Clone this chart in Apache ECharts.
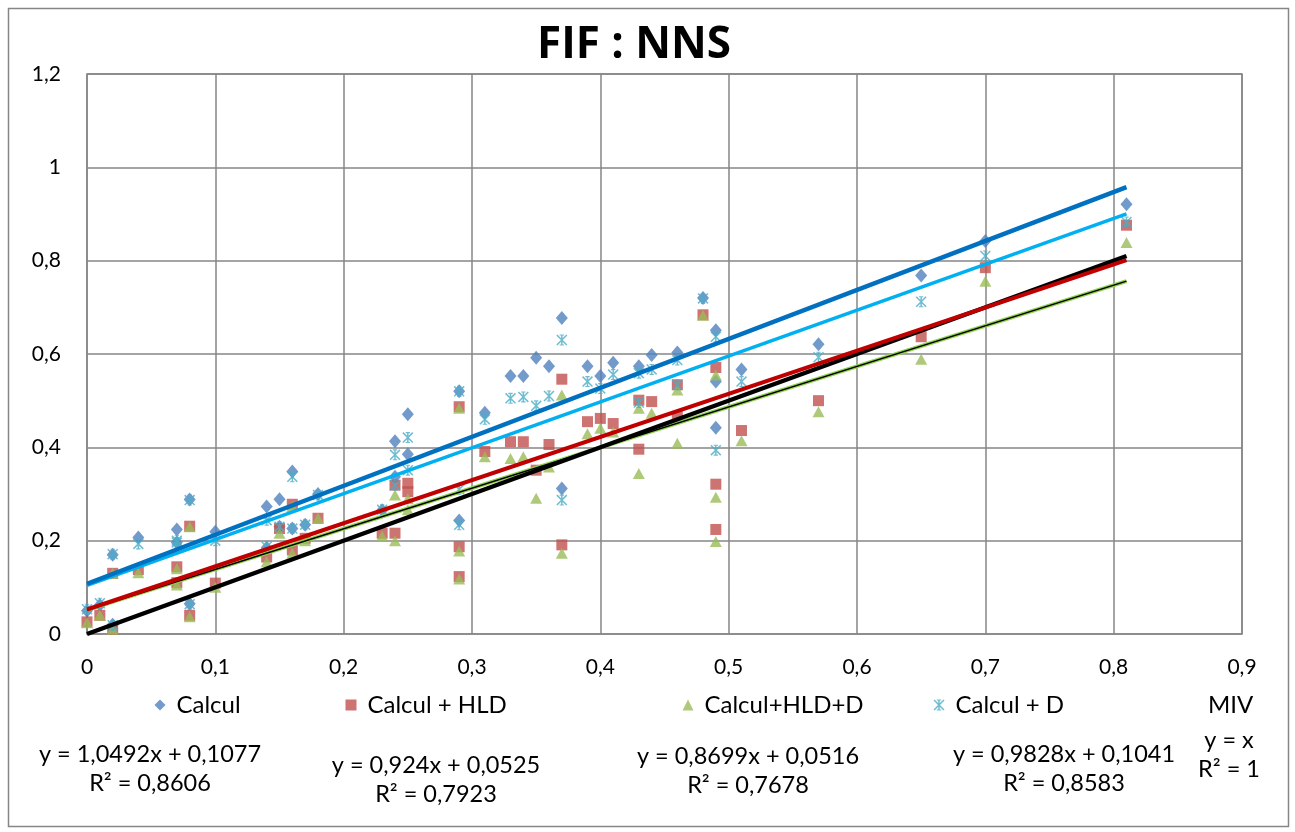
<!DOCTYPE html>
<html><head><meta charset="utf-8">
<script src="https://cdn.jsdelivr.net/npm/echarts@6/dist/echarts.min.js"></script>
<style>html,body{margin:0;padding:0;background:#fff}#c{width:1295px;height:832px}</style>
</head><body><div id="c"></div>
<script>
// ---- data ----
const calcul = [[0,0.05],[0.01,0.062],[0.02,0.17],[0.02,0.02],[0.04,0.207],[0.07,0.224],[0.07,0.196],[0.08,0.288],[0.08,0.065],[0.1,0.219],[0.14,0.273],[0.14,0.185],[0.15,0.289],[0.15,0.23],[0.16,0.348],[0.16,0.226],[0.17,0.234],[0.18,0.3],[0.23,0.265],[0.24,0.413],[0.24,0.337],[0.25,0.471],[0.25,0.385],[0.29,0.52],[0.29,0.243],[0.31,0.474],[0.33,0.553],[0.34,0.553],[0.35,0.592],[0.36,0.574],[0.37,0.677],[0.37,0.312],[0.39,0.574],[0.40,0.553],[0.41,0.581],[0.43,0.574],[0.44,0.598],[0.46,0.603],[0.48,0.72],[0.49,0.651],[0.49,0.541],[0.49,0.442],[0.51,0.567],[0.57,0.621],[0.65,0.768],[0.70,0.842],[0.81,0.921]];
const calculHLD = [[0,0.026],[0.01,0.04],[0.02,0.13],[0.02,0.01],[0.04,0.138],[0.07,0.144],[0.07,0.11],[0.08,0.231],[0.08,0.04],[0.1,0.109],[0.14,0.165],[0.15,0.226],[0.16,0.278],[0.16,0.18],[0.17,0.205],[0.18,0.248],[0.23,0.216],[0.24,0.319],[0.24,0.216],[0.25,0.323],[0.25,0.305],[0.29,0.487],[0.29,0.187],[0.29,0.123],[0.31,0.391],[0.33,0.412],[0.34,0.412],[0.35,0.351],[0.36,0.406],[0.37,0.546],[0.37,0.191],[0.39,0.455],[0.40,0.462],[0.41,0.451],[0.43,0.501],[0.43,0.396],[0.44,0.498],[0.46,0.534],[0.46,0.466],[0.48,0.684],[0.49,0.571],[0.49,0.321],[0.49,0.224],[0.51,0.436],[0.57,0.5],[0.65,0.637],[0.70,0.785],[0.81,0.876]];
const calculHLDD = [[0,0.024],[0.01,0.04],[0.02,0.13],[0.02,0.01],[0.04,0.131],[0.07,0.14],[0.07,0.105],[0.08,0.23],[0.08,0.037],[0.1,0.1],[0.14,0.155],[0.15,0.216],[0.16,0.273],[0.16,0.173],[0.17,0.2],[0.18,0.248],[0.23,0.21],[0.24,0.298],[0.24,0.2],[0.25,0.29],[0.25,0.266],[0.29,0.484],[0.29,0.178],[0.29,0.118],[0.31,0.38],[0.33,0.376],[0.34,0.38],[0.35,0.291],[0.36,0.358],[0.37,0.512],[0.37,0.173],[0.39,0.429],[0.40,0.441],[0.41,0.433],[0.43,0.484],[0.43,0.344],[0.44,0.473],[0.46,0.523],[0.46,0.409],[0.48,0.683],[0.49,0.555],[0.49,0.293],[0.49,0.198],[0.51,0.414],[0.57,0.476],[0.65,0.589],[0.70,0.756],[0.81,0.839]];
const calculD = [[0,0.053],[0.01,0.066],[0.02,0.171],[0.02,0.019],[0.04,0.193],[0.07,0.2],[0.07,0.196],[0.08,0.287],[0.08,0.064],[0.1,0.2],[0.14,0.244],[0.14,0.187],[0.15,0.23],[0.16,0.337],[0.16,0.226],[0.17,0.234],[0.18,0.298],[0.23,0.266],[0.24,0.384],[0.24,0.319],[0.25,0.421],[0.25,0.351],[0.29,0.52],[0.29,0.234],[0.29,0.31],[0.31,0.46],[0.33,0.505],[0.34,0.508],[0.35,0.489],[0.36,0.51],[0.37,0.63],[0.37,0.287],[0.39,0.541],[0.40,0.526],[0.41,0.556],[0.43,0.559],[0.43,0.496],[0.44,0.567],[0.46,0.587],[0.46,0.534],[0.48,0.719],[0.49,0.637],[0.49,0.394],[0.51,0.541],[0.57,0.593],[0.65,0.712],[0.70,0.81],[0.81,0.883]];
// trendline equations shown in the chart: [slope, intercept]
const trendCalcul = [1.0492, 0.1077];
const trendHLD = [0.924, 0.0525];
const trendHLDD = [0.8699, 0.0516];
const trendD = [0.9828, 0.1041];
const trendMIV = [1, 0];
const trendRange = [0, 0.81];
const seriesNames = ['Calcul', 'Calcul + HLD', 'Calcul+HLD+D', 'Calcul + D', 'MIV'];
const eqTexts = [
  ['y = 1,0492x + 0,1077', 'R² = 0,8606'],
  ['y = 0,924x + 0,0525', 'R² = 0,7923'],
  ['y = 0,8699x + 0,0516', 'R² = 0,7678'],
  ['y = 0,9828x + 0,1041', 'R² = 0,8583'],
  ['y = x', 'R² = 1']
];
const xTicks = {min: 0, max: 0.9, interval: 0.1};
const yTicks = {min: 0, max: 1.2, interval: 0.2};

// ---- drawing ----
const FONT = 'Lato, "Open Sans", sans-serif';
const fmt = v => String(+v.toFixed(1)).replace('.', ',');
const tl = (t) => trendRange.map(x => [x, t[0] * x + t[1]]);
const starPath = 'path://M4.3,0 L5.7,0 L5.7,10 L4.3,10 Z M1,0 L10,9 L9,10 L0,1 Z M9,0 L10,1 L1,10 L0,9 Z M3,0 L7,0 L7,1 L3,1 Z M3,9 L7,9 L7,10 L3,10 Z';
const grey = '#868686';

const chart = echarts.init(document.getElementById('c'), null, {renderer: 'canvas'});
function lineSeries(name, data, color, width, z) {
  return {name: name, type: 'line', data: data, symbol: 'none', z: z, silent: true,
    lineStyle: {color: color, width: width}, itemStyle: {color: color}};
}
const legendPos = [[149.5, 688], [340.5, 688], [677.5, 688], [928.5, 688]];
const eqPos = [[150, 769], [436, 780], [748, 771], [1064, 769], [1229, 755]];
const graphics = eqTexts.map((t, i) => ({type: 'text', x: eqPos[i][0], y: eqPos[i][1], silent: true,
  style: {text: t[0] + '\n' + t[1], textAlign: 'center', textVerticalAlign: 'middle',
    fontFamily: FONT, fontSize: 23.5, lineHeight: 29, fill: '#000'}}));
graphics.push({type: 'text', x: 634, y: 45, silent: true,
  style: {text: 'FIF : NNS', textAlign: 'center', textVerticalAlign: 'middle',
    fontFamily: '"Open Sans", Lato, sans-serif', fontWeight: 'bold', fontSize: 44, fill: '#000'}});
graphics.push({type: 'rect', silent: true, z: -1,
  shape: {x: 8.5, y: 8.5, width: 1280, height: 818}, style: {fill: null, stroke: grey, lineWidth: 1.5}});

chart.setOption({
  animation: false,
  backgroundColor: '#fff',
  grid: {left: 87, top: 74, right: 53, bottom: 198, show: true, borderColor: grey, borderWidth: 1.5},
  xAxis: {type: 'value', min: xTicks.min, max: xTicks.max, interval: xTicks.interval,
    axisLine: {show: false}, axisTick: {show: false},
    splitLine: {lineStyle: {color: grey, width: 1.5}},
    axisLabel: {formatter: fmt, color: '#000', fontFamily: FONT, fontSize: 21, margin: 23}},
  yAxis: {type: 'value', min: yTicks.min, max: yTicks.max, interval: yTicks.interval,
    axisLine: {show: false}, axisTick: {show: false},
    splitLine: {lineStyle: {color: grey, width: 1.5}},
    axisLabel: {formatter: fmt, color: '#000', fontFamily: FONT, fontSize: 21, margin: 26}},
  legend: legendPos.map((p, i) => ({data: [seriesNames[i]], left: p[0], top: p[1],
    itemWidth: 11, itemHeight: 11, itemGap: 6,
    textStyle: {fontFamily: FONT, fontSize: 24, color: '#000', padding: [0, 0, 0, 6]}})).concat([
    {data: [{name: 'MIV', icon: 'none'}], left: 1198, top: 688, itemWidth: 0, itemGap: 0,
      textStyle: {fontFamily: FONT, fontSize: 24, color: '#000'}}]),
  graphic: graphics,
  series: [
    {name: seriesNames[0], type: 'scatter', data: calcul, symbol: 'diamond', symbolSize: [12, 14], z: 2,
      itemStyle: {color: '#4F81BD'}},
    {name: seriesNames[1], type: 'scatter', data: calculHLD, symbol: 'rect', symbolSize: 11, z: 2,
      itemStyle: {color: '#C0504D'}},
    {name: seriesNames[2], type: 'scatter', data: calculHLDD, symbol: 'triangle', symbolSize: [12, 11], z: 2,
      itemStyle: {color: '#9BBB59'}},
    {name: seriesNames[3], type: 'scatter', data: calculD, symbol: starPath, symbolSize: 11, z: 2,
      itemStyle: {color: '#4BACC6'}},
    lineSeries('_tHLDD', tl(trendHLDD), '#92D050', 4, 3),
    lineSeries('_tHLDD2', tl(trendHLDD), '#000000', 1.5, 4),
    lineSeries('MIV', tl(trendMIV), '#000000', 4.5, 5),
    lineSeries('_tHLD', tl(trendHLD), '#C00000', 4, 5),
    lineSeries('_tD', tl(trendD), '#00B0F0', 3.5, 5),
    lineSeries('_tC', tl(trendCalcul), '#0070C0', 4.5, 5)
  ]
});
</script></body></html>
